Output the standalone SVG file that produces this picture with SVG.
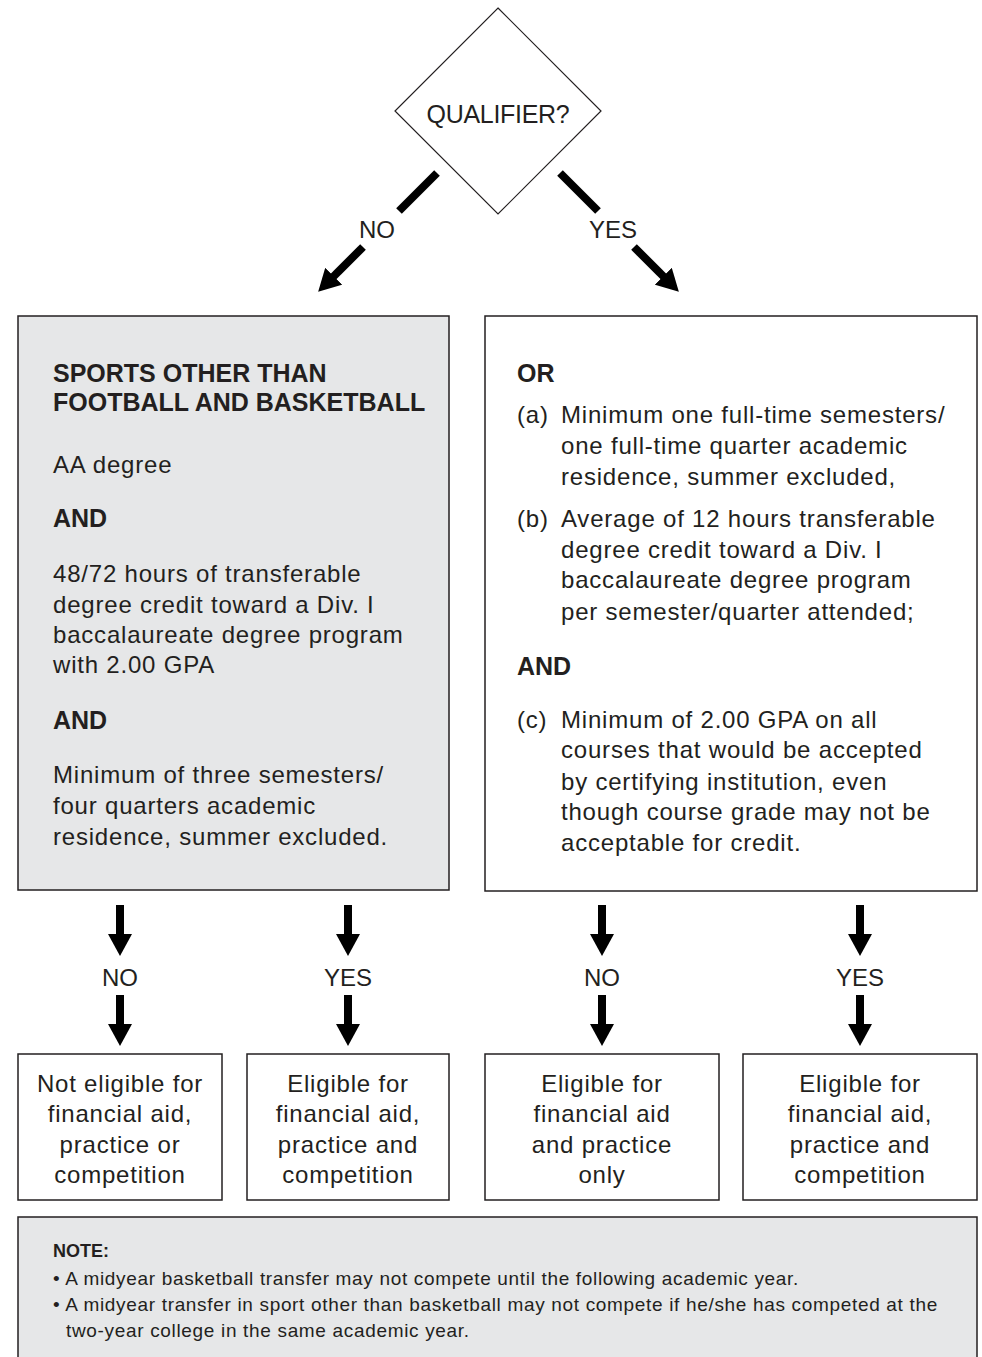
<svg xmlns="http://www.w3.org/2000/svg" width="982" height="1357" viewBox="0 0 982 1357">
<style>
  .t { font-family: "Liberation Sans", Arial, sans-serif; font-size: 24px; letter-spacing: 0.8px; fill: #231f20; }
  .b { font-family: "Liberation Sans", Arial, sans-serif; font-size: 25px; font-weight: bold; fill: #231f20; }
  .c { text-anchor: middle; }
  .lbl { font-family: "Liberation Sans", Arial, sans-serif; font-size: 24px; fill: #231f20; text-anchor: middle; }
  .n { font-family: "Liberation Sans", Arial, sans-serif; font-size: 19px; letter-spacing: 0.67px; fill: #231f20; }
  .nb { font-family: "Liberation Sans", Arial, sans-serif; font-size: 18px; font-weight: bold; fill: #231f20; }
  .box { fill: #ffffff; stroke: #231f20; stroke-width: 1.5; }
  .gbox { fill: #e6e7e8; stroke: #231f20; stroke-width: 1.5; }
  .arr { stroke: #000; stroke-width: 8; fill: none; }
  .arrh { stroke: #000; stroke-width: 8; fill: none; marker-end: url(#head); }
</style>
<defs>
  <marker id="head" markerUnits="userSpaceOnUse" viewBox="0 0 22 24" markerWidth="22" markerHeight="24" refX="1" refY="12" orient="auto">
    <path d="M0,0 L22,12 L0,24 Z" fill="#000"/>
  </marker>
</defs>

<g id="decision">
  <polygon points="498,8 601,111 498,214 395,111" fill="#fff" stroke="#231f20" stroke-width="1.2"/>
  <text class="lbl" x="498" y="123" style="font-size:25px;letter-spacing:-0.3px">QUALIFIER?</text>
</g>

<g id="connectors">
  <line class="arr" x1="437" y1="173" x2="399" y2="211"/>
  <line class="arrh" x1="363" y1="247" x2="333" y2="277"/>
  <line class="arr" x1="560" y1="173" x2="598" y2="211"/>
  <line class="arrh" x1="634" y1="247" x2="664" y2="277"/>
  <text class="lbl" x="377" y="238">NO</text>
  <text class="lbl" x="613" y="238">YES</text>

  <line class="arrh" x1="120" y1="905" x2="120" y2="935"/>
  <line class="arrh" x1="120" y1="995" x2="120" y2="1025"/>
  <text class="lbl" x="120" y="986">NO</text>
  <line class="arrh" x1="348" y1="905" x2="348" y2="935"/>
  <line class="arrh" x1="348" y1="995" x2="348" y2="1025"/>
  <text class="lbl" x="348" y="986">YES</text>
  <line class="arrh" x1="602" y1="905" x2="602" y2="935"/>
  <line class="arrh" x1="602" y1="995" x2="602" y2="1025"/>
  <text class="lbl" x="602" y="986">NO</text>
  <line class="arrh" x1="860" y1="905" x2="860" y2="935"/>
  <line class="arrh" x1="860" y1="995" x2="860" y2="1025"/>
  <text class="lbl" x="860" y="986">YES</text>
</g>

<g id="non-qualifier">
  <rect class="gbox" x="18" y="316" width="431" height="574"/>
  <text class="b" x="53" y="382">SPORTS OTHER THAN</text>
  <text class="b" x="53" y="411">FOOTBALL AND BASKETBALL</text>
  <text class="t" x="53" y="473">AA degree</text>
  <text class="b" x="53" y="527">AND</text>
  <text class="t" x="53" y="582">48/72 hours of transferable</text>
  <text class="t" x="53" y="613">degree credit toward a Div. I</text>
  <text class="t" x="53" y="643">baccalaureate degree program</text>
  <text class="t" x="53" y="673">with 2.00 GPA</text>
  <text class="b" x="53" y="729">AND</text>
  <text class="t" x="53" y="783">Minimum of three semesters/</text>
  <text class="t" x="53" y="814">four quarters academic</text>
  <text class="t" x="53" y="845">residence, summer excluded.</text>
</g>

<g id="qualifier">
  <rect class="box" x="485" y="316" width="492" height="575"/>
  <text class="b" x="517" y="382">OR</text>
  <text class="t" x="517" y="423">(a)</text>
  <text class="t" x="561" y="423">Minimum one full-time semesters/</text>
  <text class="t" x="561" y="454">one full-time quarter academic</text>
  <text class="t" x="561" y="485">residence, summer excluded,</text>
  <text class="t" x="517" y="527">(b)</text>
  <text class="t" x="561" y="527">Average of 12 hours transferable</text>
  <text class="t" x="561" y="558">degree credit toward a Div. I</text>
  <text class="t" x="561" y="588">baccalaureate degree program</text>
  <text class="t" x="561" y="620">per semester/quarter attended;</text>
  <text class="b" x="517" y="675">AND</text>
  <text class="t" x="517" y="728">(c)</text>
  <text class="t" x="561" y="728">Minimum of 2.00 GPA on all</text>
  <text class="t" x="561" y="758">courses that would be accepted</text>
  <text class="t" x="561" y="790">by certifying institution, even</text>
  <text class="t" x="561" y="820">though course grade may not be</text>
  <text class="t" x="561" y="851">acceptable for credit.</text>
</g>

<g id="result-1">
  <rect class="box" x="18" y="1054" width="204" height="146"/>
  <text class="t c" x="120" y="1092">Not eligible for</text>
  <text class="t c" x="120" y="1122">financial aid,</text>
  <text class="t c" x="120" y="1153">practice or</text>
  <text class="t c" x="120" y="1183">competition</text>
</g>
<g id="result-2">
  <rect class="box" x="247" y="1054" width="202" height="146"/>
  <text class="t c" x="348" y="1092">Eligible for</text>
  <text class="t c" x="348" y="1122">financial aid,</text>
  <text class="t c" x="348" y="1153">practice and</text>
  <text class="t c" x="348" y="1183">competition</text>
</g>
<g id="result-3">
  <rect class="box" x="485" y="1054" width="234" height="146"/>
  <text class="t c" x="602" y="1092">Eligible for</text>
  <text class="t c" x="602" y="1122">financial aid</text>
  <text class="t c" x="602" y="1153">and practice</text>
  <text class="t c" x="602" y="1183">only</text>
</g>
<g id="result-4">
  <rect class="box" x="743" y="1054" width="234" height="146"/>
  <text class="t c" x="860" y="1092">Eligible for</text>
  <text class="t c" x="860" y="1122">financial aid,</text>
  <text class="t c" x="860" y="1153">practice and</text>
  <text class="t c" x="860" y="1183">competition</text>
</g>

<g id="note">
  <rect class="gbox" x="18" y="1217" width="959" height="150"/>
  <text class="nb" x="53" y="1257">NOTE:</text>
  <text class="n" x="53" y="1285">• A midyear basketball transfer may not compete until the following academic year.</text>
  <text class="n" x="53" y="1311">• A midyear transfer in sport other than basketball may not compete if he/she has competed at the</text>
  <text class="n" x="66" y="1337">two-year college in the same academic year.</text>
</g>
</svg>
